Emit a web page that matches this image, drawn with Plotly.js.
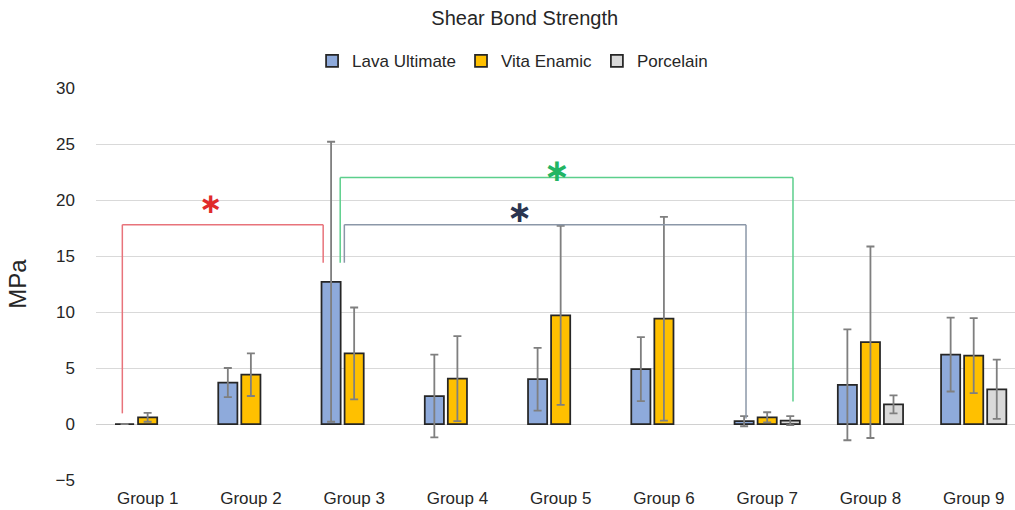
<!DOCTYPE html>
<html>
<head>
<meta charset="utf-8">
<script src="https://cdn.plot.ly/plotly-3.0.1.min.js"></script>
<style>html,body{margin:0;padding:0;background:#fff;}#chart{width:1015px;height:510px;}</style>
</head>
<body>
<div id="chart"></div>
<script>
const categories = ['Group 1','Group 2','Group 3','Group 4','Group 5','Group 6','Group 7','Group 8','Group 9'];
const lavaUltimate = [0, 3.7, 12.7, 2.5, 4.0, 4.9, 0.25, 3.5, 6.2];
const lavaUltimateErr = [0, 1.3, 12.5, 3.7, 2.8, 2.85, 0.45, 4.95, 3.3];
const vitaEnamic = [0.6, 4.4, 6.3, 4.05, 9.7, 9.4, 0.6, 7.3, 6.1];
const vitaEnamicErr = [0.4, 1.9, 4.1, 3.8, 8.0, 9.1, 0.45, 8.55, 3.35];
const porcelain = [null, null, null, null, null, null, 0.3, 1.75, 3.1];
const porcelainErr = [null, null, null, null, null, null, 0.4, 0.8, 2.65];
const yTicks = [-5, 0, 5, 10, 15, 20, 25, 30];

const FONT = 'Liberation Sans, Arial, sans-serif';
function barTrace(name, y, err, color) {
  return {
    type: 'bar', name: name, x: categories, y: y,
    marker: {color: color, line: {color: '#262626', width: 1.75}},
    error_y: {type: 'data', array: err, visible: true, color: '#7f7f7f', thickness: 1.8, width: 4},
  };
}
const data = [
  barTrace('Lava Ultimate', lavaUltimate, lavaUltimateErr, '#8eaadb'),
  barTrace('Vita Enamic', vitaEnamic, vitaEnamicErr, '#ffc000'),
  barTrace('Porcelain', porcelain, porcelainErr, '#d9d9d9'),
];

function bracket(xl, yl, xr, yr, ytop, color) {
  const ln = {color: color, width: 1.5};
  return [
    {type: 'line', xref: 'x', yref: 'y', x0: xl, x1: xl, y0: yl, y1: ytop, line: ln},
    {type: 'line', xref: 'x', yref: 'y', x0: xl, x1: xr, y0: ytop, y1: ytop, line: ln},
    {type: 'line', xref: 'x', yref: 'y', x0: xr, x1: xr, y0: ytop, y1: yr, line: ln},
  ];
}
const shapes = [].concat(
  bracket(-0.245, 0.95, 1.70, 14.4, 17.8, '#e8737b'),
  bracket(1.865, 14.4, 6.25, 2.0, 22.0, '#5ccf8c'),
  bracket(1.905, 14.4, 5.795, 0.5, 17.8, '#8b97a8')
);
function star(x, y, color, size) {
  return {x: x, y: y, xref: 'x', yref: 'y', text: '<b>\u2217</b>', showarrow: false,
    font: {family: 'DejaVu Sans', size: size, color: color}, xanchor: 'center', yanchor: 'middle'};
}
const layout = {
  width: 1015, height: 510,
  margin: {l: 96, r: 0, t: 88, b: 30},
  paper_bgcolor: '#fff', plot_bgcolor: '#fff',
  font: {family: FONT, color: '#262626'},
  title: {text: 'Shear Bond Strength', x: 0.517, xref: 'container', y: 0.965, yref: 'container', yanchor: 'middle',
    font: {family: FONT, size: 20, color: '#262626'}},
  barmode: 'group', bargap: 0.33, bargroupgap: 0.17,
  showlegend: true,
  legend: {orientation: 'h', x: 0.505, xref: 'container', xanchor: 'center', y: 0.88, yref: 'container', yanchor: 'middle',
    font: {family: FONT, size: 17, color: '#262626'}, itemwidth: 30, traceorder: 'normal'},
  xaxis: {type: 'category', range: [-0.5, 8.4], showgrid: false, zeroline: false, showline: false,
    ticks: '', ticklabelstandoff: 6, tickfont: {family: FONT, size: 17, color: '#262626'}, fixedrange: true},
  yaxis: {range: [-5, 30], tickvals: yTicks, showgrid: true, gridcolor: '#d9d9d9', gridwidth: 1,
    zeroline: true, zerolinecolor: '#d0d0d0', zerolinewidth: 1, showline: false, ticks: '',
    tickfont: {family: FONT, size: 17, color: '#262626'}, ticklabelstandoff: 20,
    title: {text: 'MPa', font: {family: FONT, size: 24, color: '#262626'}, standoff: 22}},
  shapes: shapes,
  annotations: [
    star(0.61, 19.7, '#e02b2b', 28),
    star(3.965, 22.7, '#22b563', 31),
    star(3.606, 18.95, '#2b3550', 30),
  ],
};
Plotly.newPlot('chart', data, layout, {displayModeBar: false, staticPlot: true});
</script>
</body>
</html>
